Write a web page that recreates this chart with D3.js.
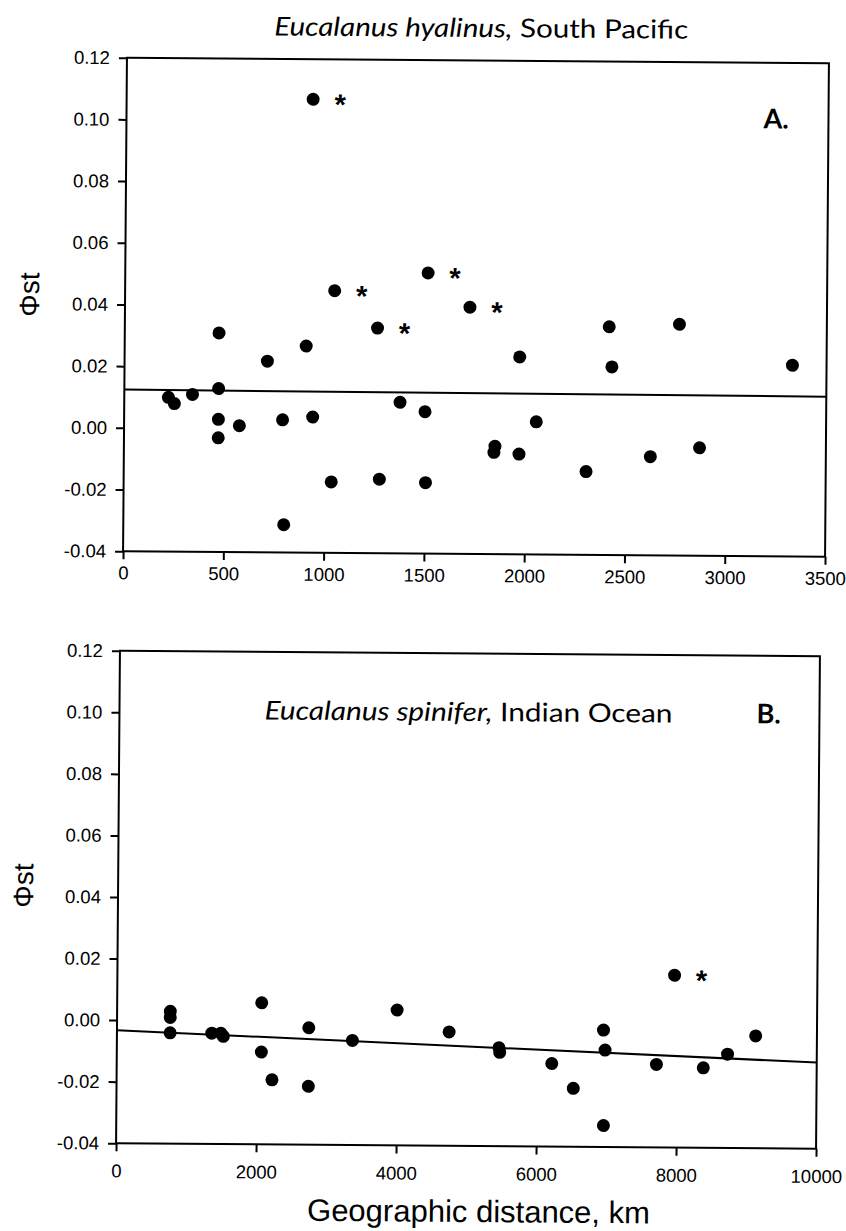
<!DOCTYPE html>
<html>
<head>
<meta charset="utf-8"/>
<script src="https://cdn.jsdelivr.net/npm/d3@7"></script>
<title>Phi-st vs geographic distance</title>
<style>
body { margin: 0; background: #fff; }
svg { display: block; }
.tick text { font-family: "Liberation Sans", Arial, sans-serif; font-size: 18.5px; fill: #000; }
.tick line { stroke: #000; stroke-width: 2; }
</style>
</head>
<body>
<script>
// Panel A - Eucalanus hyalinus, South Pacific
var distA = [220, 250, 340, 470, 470, 470, 470, 575, 712, 790, 800, 905, 930, 940, 1035, 1045, 1260, 1275,
             1375, 1500, 1505, 1510, 1720, 1845, 1850, 1970, 1970, 2055, 2305, 2415, 2430, 2625, 2765, 2870, 3330];
var phiA  = [0.010, 0.008, 0.011, 0.031, 0.013, 0.003, -0.003, 0.001, 0.022, 0.003, -0.031, 0.027, 0.107, 0.004,
             -0.017, 0.045, 0.033, -0.016, 0.009, 0.006, -0.017, 0.051, 0.040, -0.007, -0.005, 0.024, -0.0075,
             0.003, -0.013, 0.034, 0.021, -0.008, 0.035, -0.005, 0.022];
var sigA  = [0, 0, 0, 0, 0, 0, 0, 0, 0, 0, 0, 0, 1, 0, 0, 1, 1, 0, 0, 0, 0, 1, 1, 0, 0, 0, 0, 0, 0, 0, 0, 0, 0, 0, 0];
var fitA  = [[0, 0.0124], [3500, 0.0119]];
var xTicksA = [0, 500, 1000, 1500, 2000, 2500, 3000, 3500];

// Panel B - Eucalanus spinifer, Indian Ocean
var distB = [760, 760, 760, 1355, 1485, 1520, 2065, 2065, 2220, 2740, 2740, 3365, 4000, 4745, 5460, 5470,
             6215, 6525, 6950, 6975, 6960, 7710, 7960, 8380, 8725, 9125];
var phiB  = [0.003, 0.001, -0.004, -0.004, -0.004, -0.005, 0.006, -0.010, -0.019, -0.002, -0.021, -0.006, 0.004,
             -0.003, -0.008, -0.0095, -0.013, -0.021, -0.002, -0.0085, -0.033, -0.013, 0.016, -0.014, -0.0095, -0.0035];
var sigB  = [0, 0, 0, 0, 0, 0, 0, 0, 0, 0, 0, 0, 0, 0, 0, 0, 0, 0, 0, 0, 0, 0, 1, 0, 0, 0];
var fitB  = [[0, -0.0033], [10000, -0.0120]];
var xTicksB = [0, 2000, 4000, 6000, 8000, 10000];

var yTicks = [-0.04, -0.02, 0, 0.02, 0.04, 0.06, 0.08, 0.10, 0.12];

var svg = d3.select("body").append("svg")
    .attr("width", 846)
    .attr("height", 1231);

var tilt = 0.45; // the scanned page sits slightly crooked

function drawPanel(p) {
  var w = p.width, h = p.height;
  var cx = p.left + w / 2, cy = p.top + h / 2;
  var outer = svg.append("g").attr("transform", "rotate(" + tilt + "," + cx + "," + cy + ")");
  var g = outer.append("g").attr("transform", "translate(" + p.left + "," + p.top + ")");

  var x = d3.scaleLinear().domain(p.xDomain).range([0, w]);
  var y = d3.scaleLinear().domain([-0.04, 0.12]).range([h, 0]);

  //axes: ticks outward, no domain path (frame drawn below)
  var ya = g.append("g")
    .call(d3.axisLeft(y).tickValues(yTicks).tickFormat(function(d){ return d.toFixed(2); })
      .tickSizeInner(8).tickSizeOuter(0).tickPadding(9));
  ya.select(".domain").remove();

  var xa = g.append("g").attr("transform", "translate(0," + h + ")")
    .call(d3.axisBottom(x).tickValues(p.xTicks).tickFormat(function(d){ return String(d); })
      .tickSizeInner(8).tickSizeOuter(0).tickPadding(p.xPad));
  xa.select(".domain").remove();

  g.append("rect")
    .attr("width", w).attr("height", h)
    .attr("fill", "none").attr("stroke", "#000").attr("stroke-width", 2);

  //regression line
  g.append("path")
    .datum(p.fit)
    .attr("fill", "none").attr("stroke", "#000").attr("stroke-width", 2)
    .attr("d", d3.line().x(function(d){ return x(d[0]); }).y(function(d){ return y(d[1]); }));

  var pts = p.dist.map(function(d, i){ return {d: d, v: p.phi[i], s: p.sig[i]}; });

  g.selectAll("circle").data(pts).enter().append("circle")
    .attr("cx", function(d){ return x(d.d); })
    .attr("cy", function(d){ return y(d.v); })
    .attr("r", 6.5)
    .attr("fill", "#000");

  //significance asterisks
  g.selectAll("text.star").data(pts.filter(function(d){ return d.s; })).enter().append("text")
    .attr("class", "star")
    .attr("x", function(d){ return x(d.d) + 27; })
    .attr("y", function(d){ return y(d.v) + 15; })
    .attr("text-anchor", "middle")
    .style("font-family", "Liberation Sans, Arial, sans-serif")
    .style("font-weight", "bold")
    .style("font-size", "29px")
    .text("*");

  //Phi-st label
  outer.append("text")
    .attr("transform", "translate(" + p.yLab[0] + "," + p.yLab[1] + ") rotate(-90)")
    .attr("text-anchor", "middle")
    .style("font-family", "Liberation Sans, Arial, sans-serif")
    .style("font-size", "28px")
    .text("\u03A6st");

  //species title
  var t = outer.append("text")
    .attr("x", p.title[0]).attr("y", p.title[1])
    .attr("text-anchor", "middle")
    .attr("textLength", p.title[2])
    .attr("lengthAdjust", "spacingAndGlyphs")
    .style("font-family", "Lato, 'Open Sans', sans-serif")
    .style("font-size", "26px");
  t.append("tspan").style("font-style", "italic").text(p.species);
  t.append("tspan").text(p.region);

  outer.append("text")
    .attr("x", p.letter[0]).attr("y", p.letter[1])
    .style("font-family", "Lato, 'Open Sans', sans-serif")
    .style("font-size", "27px")
    .style("font-weight", "bold")
    .text(p.letterText);

  return outer;
}

drawPanel({
  left: 125, top: 60.5, width: 702, height: 493.5,
  xDomain: [0, 3500], xTicks: xTicksA, xPad: 7,
  dist: distA, phi: phiA, sig: sigA, fit: fitA,
  yLab: [39, 298], title: [479, 37, 414], letter: [762, 126],
  species: "Eucalanus hyalinus,", region: " South Pacific", letterText: "A."
});

var pB = drawPanel({
  left: 118, top: 653.5, width: 700, height: 492.5,
  xDomain: [0, 10000], xTicks: xTicksB, xPad: 13,
  dist: distB, phi: phiB, sig: sigB, fit: fitB,
  yLab: [33, 889], title: [467, 721, 408], letter: [755, 721],
  species: "Eucalanus spinifer,", region: " Indian Ocean", letterText: "B."
});

pB.append("text")
  .attr("x", 481).attr("y", 1222)
  .attr("text-anchor", "middle")
  .style("font-family", "Liberation Sans, Arial, sans-serif")
  .style("font-size", "31px")
  .text("Geographic distance, km");
</script>
</body>
</html>
